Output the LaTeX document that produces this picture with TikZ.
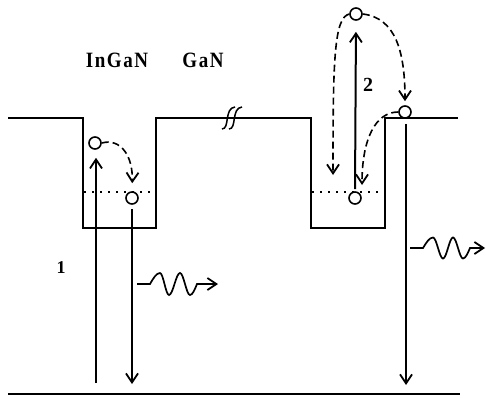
\documentclass[tikz,border=0pt]{standalone}
\usepackage{fontspec}
\usepackage{graphicx}
\setmainfont{Liberation Serif}
\newfontfamily\lblfont[LetterSpace=8]{Liberation Serif}
\usetikzlibrary{arrows.meta}
\begin{document}
\begin{tikzpicture}[x=1pt,y=-1pt,
  level/.style={line width=2.3pt},
  dotline/.style={line width=1.6pt,dash pattern=on 1.6pt off 6.4pt},
  elec/.style={circle,draw,line width=1.6pt,minimum size=12pt,inner sep=0pt,fill=white},
  tip/.style={-{Straight Barb[length=9pt,width=12pt,line width=1.8pt]}},
  arr/.style={line width=2pt,tip},
  hop/.style={line width=1.6pt,dash pattern=on 7pt off 4pt,tip},
  wave/.style={line width=1.7pt,tip},
  lbl/.style={font=\lblfont\bfseries\fontsize{19}{19}\selectfont,inner sep=0pt},
  num/.style={font=\bfseries\fontsize{18}{18}\selectfont,inner sep=0pt}]
\useasboundingbox (0,0) rectangle (486,398);

% band edges
\draw[level] (8,118) -- (83,118) -- (83,228) -- (156,228) -- (156,118)
  -- (311,118) -- (311,228) -- (385,228) -- (385,118) -- (458,118);
\draw[level] (8,394) -- (460,394);
\draw[dotline] (84,192) -- (156,192);
\draw[dotline] (312,192) -- (385,192);

% break symbol
\draw[line width=1.5pt] (222,129) .. controls (230,129) and (224,108) .. (235,107);
\draw[line width=1.5pt] (229,129) .. controls (237,129) and (231,108) .. (242,107);

% labels
\node[lbl] (ingan) at (117,60) {\scalebox{1}[1.15]{InGaN}};
\node[lbl] (gan) at (203,60) {\scalebox{1}[1.15]{GaN}};
\node[num] (one) at (61,268) {1};
\node[num,font=\bfseries\fontsize{20}{20}\selectfont] (two) at (368,85) {2};

% electrons
\node[elec] (c1) at (95,143) {};
\node[elec] (c2) at (132,198) {};
\node[elec] (c3) at (355,198) {};
\node[elec] (c4) at (356,14) {};
\node[elec] (c5) at (405,112) {};

\coordinate (b1) at (96,383);
\coordinate (b2) at (132,384);
\coordinate (b3) at (406,385);

% transitions
\draw[arr,shorten >=8pt] (b1) -- (c1.south -| b1);
\draw[arr,shorten <=4pt] (c2.south) -- (b2);
\draw[arr,shorten <=2pt,shorten >=11pt] (c3.north) -- (c4.south);
\draw[arr,shorten <=5pt] (c5.south -| b3) -- (b3);

% hops
\draw[hop,shorten >=8pt] (c1.east) .. controls (120,138) and (133,155) .. (c2.north);
\draw[hop] (c4.west) .. controls (334,18) and (333,60) .. (333,175);
\draw[hop,shorten >=4pt] (c4.east) .. controls (395,18) and (405,50) .. (c5.north);
\draw[hop] (c5.west) .. controls (375,112) and (362,140) .. (362,185);

% emitted photons
\coordinate (w1) at (137,284);
\coordinate (w1e) at (218,284);
\draw[wave] (w1) -- (150,284) sin (160,273) cos (164.5,284) sin (169,295) cos (174.5,284)
  sin (180,273) cos (185,284) sin (190,295) cos (197,284) -- (w1e);
\coordinate (w2) at (410,248);
\coordinate (w2e) at (485,248);
\draw[wave] (w2) -- (423,248) sin (433,237.5) cos (438,248) sin (443,258.5) cos (448,248)
  sin (453,237.5) cos (458,248) sin (463,258.5) cos (470,248) -- (w2e);
\end{tikzpicture}
\end{document}
